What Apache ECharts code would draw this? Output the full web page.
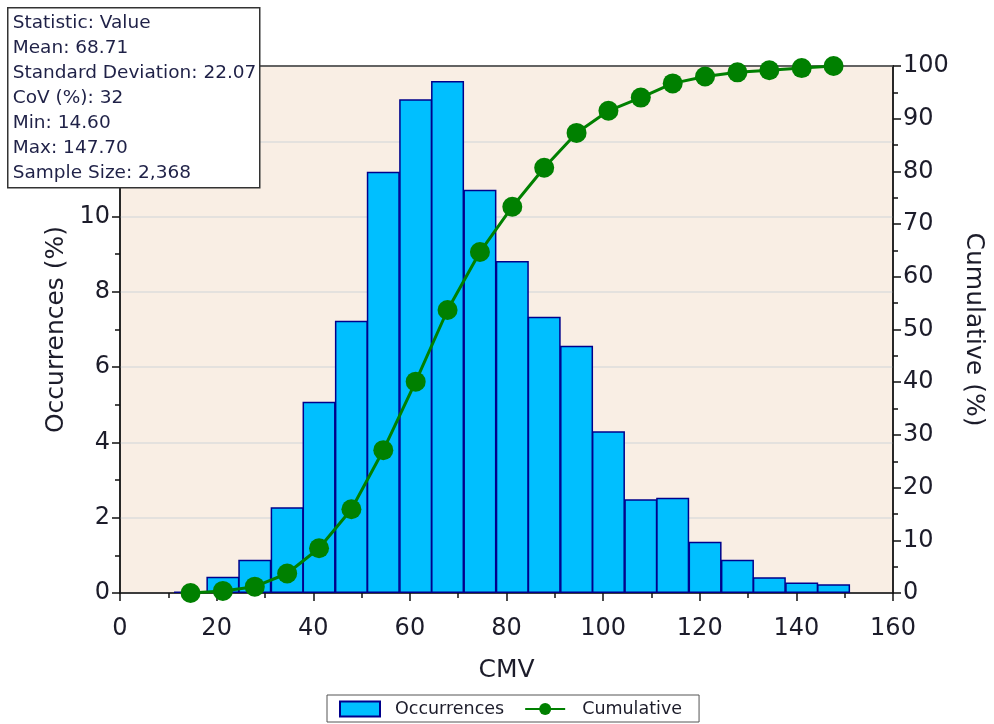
<!DOCTYPE html>
<html>
<head>
<meta charset="utf-8">
<script src="https://cdn.jsdelivr.net/npm/echarts@6/dist/echarts.min.js"></script>
<style>
html,body{margin:0;padding:0;background:#fff;}
#chart{width:994px;height:724px;}
</style>
</head>
<body>
<div id="chart"></div>
<script>
// Bin centres (CMV)
var binCenters = [14.6, 21.3, 27.9, 34.6, 41.2, 47.9, 54.5, 61.2, 67.8, 74.5, 81.2, 87.8, 94.5, 101.1, 107.8, 114.4, 121.1, 127.8, 134.4, 141.1, 147.7];
// Occurrences (%)
var occurrences = [0.04, 0.43, 0.88, 2.28, 5.08, 7.23, 11.19, 13.12, 13.60, 10.71, 8.82, 7.34, 6.57, 4.30, 2.49, 2.53, 1.36, 0.88, 0.42, 0.28, 0.23];
// Cumulative (%)
var cumulative = [0.0, 0.4, 1.2, 3.7, 8.5, 15.9, 27.1, 40.1, 53.7, 64.7, 73.3, 80.7, 87.3, 91.5, 94.0, 96.7, 98.0, 98.8, 99.2, 99.6, 100.0];
// Statistics box lines
var statLines = ["Statistic: Value", "Mean: 68.71", "Standard Deviation: 22.07", "CoV (%): 32", "Min: 14.60", "Max: 147.70", "Sample Size: 2,368"];

var FONT = "DejaVu Sans";
var TXT = "#1c1c2a";

var barData = binCenters.map(function (c, i) { return [c, occurrences[i]]; });
var lineData = binCenters.map(function (c, i) { return [c, cumulative[i]]; });

var chart = echarts.init(document.getElementById('chart'), null, {renderer: 'canvas'});
chart.setOption({
  animation: false,
  backgroundColor: '#ffffff',
  textStyle: {fontFamily: FONT, color: TXT},
  grid: {
    left: 120, right: 101, top: 66, bottom: 131,
    show: true, backgroundColor: '#F9EEE4', borderColor: '#444444', borderWidth: 1.5
  },
  legend: {
    left: 327, top: 695,
    padding: [5, 17, 4, 12],
    itemGap: 20,
    borderColor: '#555555', borderWidth: 1,
    backgroundColor: '#ffffff',
    itemWidth: 40, itemHeight: 15,
    textStyle: {fontFamily: FONT, fontSize: 17.5, color: TXT, padding: [0, 0, 0, 10]},
    data: [
      {name: 'Occurrences', icon: 'rect'},
      {name: 'Cumulative', textStyle: {padding: [0, 0, 0, 12]}}
    ]
  },
  xAxis: [
    {
      type: 'value', min: 0, max: 160, interval: 20,
      name: 'CMV', nameLocation: 'middle', nameGap: 65,
      nameTextStyle: {fontFamily: FONT, fontSize: 25, color: TXT},
      axisLine: {show: true, onZero: false, lineStyle: {color: '#111', width: 1.5}},
      axisTick: {show: true, length: 8, lineStyle: {color: '#111', width: 1.5}},
      minorTick: {show: true, splitNumber: 2, length: 5, lineStyle: {color: '#111', width: 1.5}},
      axisLabel: {fontFamily: FONT, fontSize: 24, color: TXT, margin: 24},
      splitLine: {show: false}
    },
    {
      type: 'value', min: 0, max: 160, position: 'top',
      axisLine: {show: true, onZero: false, lineStyle: {color: '#444', width: 1.5}},
      axisTick: {show: false}, minorTick: {show: false}, axisLabel: {show: false}, splitLine: {show: false}
    }
  ],
  yAxis: [
    {
      type: 'value', min: 0, max: 14, interval: 2, position: 'left',
      name: 'Occurrences (%)', nameLocation: 'middle', nameGap: 44, nameRotate: 90,
      nameTextStyle: {fontFamily: FONT, fontSize: 25, color: TXT},
      axisLine: {show: true, onZero: false, lineStyle: {color: '#111', width: 1.5}},
      axisTick: {show: true, length: 8, lineStyle: {color: '#111', width: 1.5}},
      minorTick: {show: true, splitNumber: 2, length: 5, lineStyle: {color: '#111', width: 1.5}},
      axisLabel: {fontFamily: FONT, fontSize: 24, color: TXT, margin: 10},
      splitLine: {show: true, lineStyle: {color: '#dcdcdc', width: 1.5}}
    },
    {
      type: 'value', min: 0, max: 100, interval: 10, position: 'right',
      name: 'Cumulative (%)', nameLocation: 'middle', nameGap: 68, nameRotate: -90,
      nameTextStyle: {fontFamily: FONT, fontSize: 25, color: TXT},
      axisLine: {show: true, onZero: false, lineStyle: {color: '#111', width: 1.5}},
      axisTick: {show: true, length: 8, lineStyle: {color: '#111', width: 1.5}},
      minorTick: {show: true, splitNumber: 2, length: 5, lineStyle: {color: '#111', width: 1.5}},
      axisLabel: {fontFamily: FONT, fontSize: 24, color: TXT, margin: 10},
      splitLine: {show: false}
    }
  ],
  series: [
    {
      name: 'Occurrences', type: 'bar', xAxisIndex: 0, yAxisIndex: 0,
      data: barData, barWidth: 33, barGap: '-100%',
      itemStyle: {color: '#00BFFF', borderColor: '#00008B', borderWidth: 1.5},
      z: 2
    },
    {
      name: 'Cumulative', type: 'line', xAxisIndex: 0, yAxisIndex: 1,
      data: lineData, clip: false,
      symbol: 'circle', symbolSize: 20,
      lineStyle: {color: '#008000', width: 3},
      itemStyle: {color: '#008000'},
      z: 5
    }
  ],
  graphic: [
    {
      type: 'group', left: 7, top: 7, zlevel: 2, z: 100,
      children: [
        {type: 'rect', z: 100, zlevel: 2, shape: {x: 0, y: 0, width: 252, height: 180},
         style: {fill: '#ffffff', stroke: '#333333', lineWidth: 1.5}},
        {type: 'text', z: 101, zlevel: 2, left: 5, top: 3,
         style: {text: statLines.join('\n'), fontFamily: FONT, fontSize: 18.5, lineHeight: 25, fill: '#1f2147'}}
      ]
    }
  ]
});
</script>
</body>
</html>
